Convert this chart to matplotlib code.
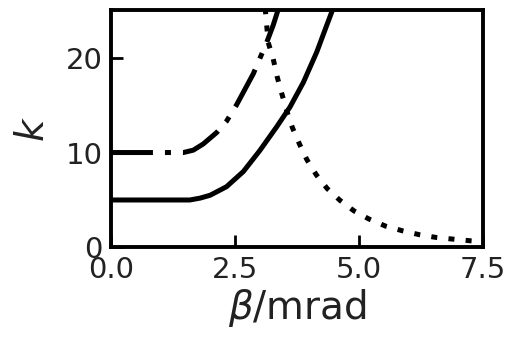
import matplotlib
matplotlib.use("Agg")
import matplotlib.pyplot as plt

# Solid curve
beta_solid = [0.0, 1.59, 1.8, 2.0, 2.33, 2.67, 3.0, 3.34, 3.61, 3.88, 4.15, 4.35, 4.48]
k_solid = [5.0, 5.0, 5.2, 5.5, 6.4, 8.0, 10.2, 12.7, 14.8, 17.4, 20.6, 23.4, 25.2]

# Dash-dot curve
beta_dashdot = [0.0, 1.46, 1.66, 1.86, 2.13, 2.33, 2.53, 2.87, 3.14, 3.27, 3.38]
k_dashdot = [10.0, 10.0, 10.25, 10.9, 12.1, 13.3, 15.0, 18.3, 21.6, 23.4, 25.2]

# Dotted curve
beta_dotted = [3.11, 3.14, 3.17, 3.27, 3.35, 3.45, 3.55, 3.66, 3.8, 3.95, 4.14, 4.36,
               4.62, 4.9, 5.2, 5.54, 5.88, 6.23, 6.56, 6.91, 7.27, 7.42]
k_dotted = [25.2, 23.4, 21.6, 19.9, 18.0, 16.1, 14.3, 12.6, 10.9, 9.25, 7.65, 6.2,
            4.95, 3.85, 3.0, 2.24, 1.75, 1.33, 1.05, 0.87, 0.69, 0.63]

x_ticks = [0.0, 2.5, 5.0, 7.5]
y_ticks = [0, 10, 20]

fig = plt.figure(figsize=(5.16, 3.5), dpi=100)
ax = fig.add_axes([0.215, 0.293, 0.721, 0.678])

lw = 3.6
ax.plot(beta_solid, k_solid, color="black", lw=lw, solid_capstyle="butt",
        solid_joinstyle="round")
ax.plot(beta_dashdot, k_dashdot, color="black", lw=lw, dashes=(8.4, 2.4, 1.2, 2.4))
ax.plot(beta_dotted, k_dotted, color="black", lw=lw, dashes=(1.2, 2.25))

ax.set_xlim(0, 7.5)
ax.set_ylim(0, 25)
ax.set_xticks(x_ticks)
ax.set_xticklabels([f"{v:.1f}" for v in x_ticks])
ax.set_yticks(y_ticks)
ax.tick_params(direction="in", length=8.5, width=2, labelsize=21, pad=6,
               top=False, right=False, labelcolor="#222222")
for s in ax.spines.values():
    s.set_linewidth(2.8)

ax.set_xlabel(r"$\beta$/mrad", fontsize=28, labelpad=2, color="#222222")
ax.set_ylabel(r"$k$", fontsize=28, labelpad=10, color="#222222")

fig.savefig("out.png", dpi=100)
